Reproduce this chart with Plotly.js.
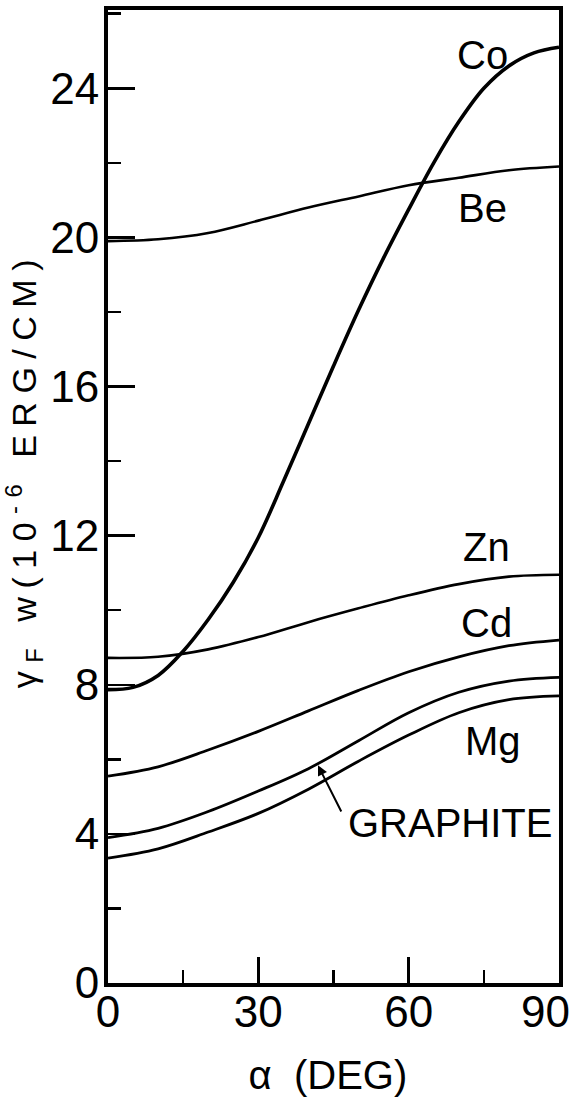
<!DOCTYPE html>
<html>
<head>
<meta charset="utf-8">
<script src="https://cdn.plot.ly/plotly-3.0.1.min.js"></script>
<style>
  html, body { margin: 0; padding: 0; background: #fff; }
  #chart { width: 581px; height: 1104px; }
  .ytitle { letter-spacing: 8.5px; }
</style>
</head>
<body>
<div id="chart"></div>
<script>
// Angle alpha (degrees)
const alphaFine = [0, 5, 10, 15, 20, 25, 30, 35, 40, 45, 50, 55, 60, 65, 70, 75, 80, 85, 90];
const alphaCoarse = [0, 10, 20, 30, 40, 50, 60, 70, 80, 90];

// gamma_F * w (10^-6 erg/cm)
const coValues = [7.87, 7.93, 8.25, 8.9, 9.75, 10.75, 11.95, 13.45, 15.0, 16.55, 18.05, 19.45, 20.75, 22.0, 23.1, 24.0, 24.6, 24.95, 25.1];
const beValues = [19.9, 19.95, 20.12, 20.45, 20.8, 21.1, 21.4, 21.6, 21.8, 21.9];
const znValues = [8.72, 8.75, 8.95, 9.28, 9.68, 10.05, 10.4, 10.7, 10.9, 10.95];
const cdValues = [5.55, 5.8, 6.25, 6.75, 7.3, 7.85, 8.35, 8.75, 9.05, 9.2];
const graphiteValues = [3.9, 4.15, 4.6, 5.15, 5.75, 6.5, 7.25, 7.8, 8.1, 8.2];
const mgValues = [3.35, 3.6, 4.05, 4.55, 5.2, 5.95, 6.65, 7.25, 7.6, 7.7];

const seriesNames = ["Co", "Be", "Zn", "Cd", "GRAPHITE", "Mg"];

const xTickVals = [0, 30, 60, 90];
const xTickText = ["0", "30", "60", ""];   // "90" is drawn just inside the right edge below
const lastXTick = "90";
const yTickVals = [0, 4, 8, 12, 16, 20, 24];
const yTickText = ["0", "4", "8", "12", "16", "20", "24"];

const FONT = "Liberation Sans, Arial, sans-serif";

function curve(x, y, name, w) {
  return {
    type: "scatter", mode: "lines", x: x, y: y, name: name,
    line: { color: "#000", width: w, shape: "spline", smoothing: 1 },
    showlegend: false, hoverinfo: "skip"
  };
}

const traces = [
  curve(alphaFine, coValues, seriesNames[0], 3.6),
  curve(alphaCoarse, beValues, seriesNames[1], 2.6),
  curve(alphaCoarse, znValues, seriesNames[2], 2.6),
  curve(alphaCoarse, cdValues, seriesNames[3], 2.8),
  curve(alphaCoarse, graphiteValues, seriesNames[4], 2.8),
  curve(alphaCoarse, mgValues, seriesNames[5], 2.8)
];

function label(text, x, y) {
  return { text: text, x: x, y: y, xref: "x", yref: "y", showarrow: false,
           font: { family: FONT, size: 40, color: "#000" }, xanchor: "center", yanchor: "middle" };
}

const layout = {
  width: 581, height: 1104,
  margin: { l: 108, r: 22, t: 10, b: 121 },
  paper_bgcolor: "#fff", plot_bgcolor: "#fff",
  font: { family: FONT, color: "#000" },
  showlegend: false,
  xaxis: {
    range: [0, 90], showgrid: false, zeroline: false,
    showline: true, linecolor: "#000", linewidth: 4, mirror: true,
    ticks: "inside", ticklen: 26, tickwidth: 2.5, tickcolor: "#000",
    tickvals: xTickVals, ticktext: xTickText,
    ticklabelstandoff: -13,
    tickfont: { family: FONT, size: 44, color: "#000" },
    minor: { dtick: 15, ticks: "inside", ticklen: 13, tickwidth: 2.5, tickcolor: "#000", showgrid: false },
    title: { text: "α&nbsp;&nbsp;(DEG)&nbsp;", font: { family: FONT, size: 40, color: "#000" }, standoff: 27 }
  },
  yaxis: {
    range: [0, 26.1], showgrid: false, zeroline: false,
    showline: true, linecolor: "#000", linewidth: 4, mirror: true,
    ticks: "inside", ticklen: 27, tickwidth: 2.5, tickcolor: "#000",
    tickvals: yTickVals, ticktext: yTickText,
    ticklabelstandoff: -4,
    tickfont: { family: FONT, size: 44, color: "#000" },
    minor: { dtick: 2, ticks: "inside", ticklen: 13, tickwidth: 2.5, tickcolor: "#000", showgrid: false },
    title: { text: "&nbsp;&nbsp;&nbsp;γ<sub>F</sub> w(10<sup>-6</sup> ERG/CM)", font: { family: FONT, size: 34, color: "#000" }, standoff: 19 }
  },
  annotations: [
    label("Co", 74.8, 24.9),
    label("Be", 74.8, 20.8),
    label("Zn", 75.6, 11.7),
    label("Cd", 75.6, 9.65),
    label("Mg", 76.8, 6.5),
    label("GRAPHITE", 68.3, 4.29),
    { text: "", x: 41.9, y: 5.84, ax: 46.7, ay: 4.56, xref: "x", yref: "y", axref: "x", ayref: "y",
      showarrow: true, arrowhead: 2, arrowsize: 1, arrowwidth: 2, arrowcolor: "#000" },
    { text: lastXTick, x: xTickVals[3], xref: "x", y: 0, yref: "paper", showarrow: false,
      xanchor: "right", yanchor: "top", xshift: 13, yshift: -2,
      font: { family: FONT, size: 44, color: "#000" } }
  ]
};

Plotly.newPlot("chart", traces, layout, { staticPlot: true, displayModeBar: false });
</script>
</body>
</html>
